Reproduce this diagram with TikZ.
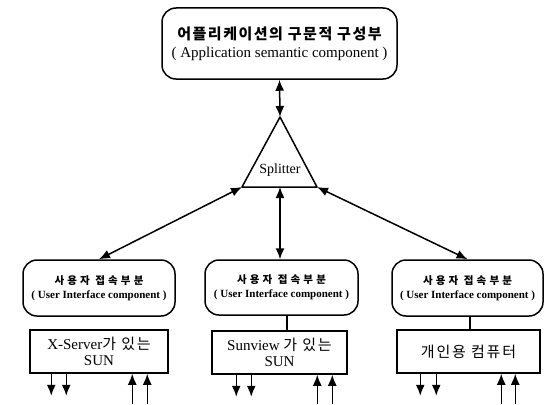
\documentclass[tikz,border=0pt]{standalone}
\usepackage{fontspec}
\setmainfont{Liberation Serif}
\newfontfamily\kr{Noto Sans CJK KR}
\usetikzlibrary{arrows.meta,calc}

\tikzset{
  conn/.style={line width=1.5pt},
  tip/.style={-{Latex[length=11pt,width=9pt]}},
  dtip/.style={{Latex[length=11pt,width=9pt]}-{Latex[length=11pt,width=9pt]}},
  roundbox/.style={draw, line width=1.5pt, rounded corners=14pt, inner sep=0pt, align=center},
  hwbox/.style={draw, line width=1.5pt, inner sep=0pt, align=center, minimum height=43pt,
    font=\fontsize{15}{16}\selectfont}
}

\newcommand{\uilabel}{{\kr\bfseries\addfontfeatures{LetterSpace=30}\fontsize{10.5}{12}\selectfont 사용자 접속부분}\\[2pt]{\bfseries\fontsize{11}{13}\selectfont ( User Interface component )}}
\newcommand{\krtext}[1]{{\kr\addfontfeatures{LetterSpace=12}\fontsize{15}{16}\selectfont #1}}

\begin{document}
\begin{tikzpicture}[x=1pt,y=-1pt]
\useasboundingbox (0,0) rectangle (553,404);

% application component
\node[roundbox, minimum width=235pt, minimum height=71pt] (app) at (279.5,43.5)
  {{\kr\bfseries\addfontfeatures{LetterSpace=10}\fontsize{15}{17}\selectfont 어플리케이션의 구문적 구성부}\\[6pt]
   {\fontsize{15}{17}\selectfont ( Application semantic component )}};

% splitter triangle
\coordinate (apex) at (280,117);
\coordinate (bl) at (242,187);
\coordinate (br) at (317,187);
\coordinate (bm) at (280,187);
\draw[conn, line join=round] (apex) -- (bl) -- (br) -- cycle;
\node[font=\fontsize{14}{16}\selectfont] (split) at (280,170) {Splitter};

% user interface components
\node[roundbox, minimum width=152pt, minimum height=56pt] (ui1) at (99,288) {\uilabel};
\node[roundbox, minimum width=153pt, minimum height=55pt] (ui2) at (281.5,287.5) {\uilabel};
\node[roundbox, minimum width=151pt, minimum height=56pt] (ui3) at (467.5,288) {\uilabel};

% machines
\node[hwbox, minimum width=138pt] (hw1) at (99,351.5)
  {X-Server\krtext{가 있는}\\SUN};
\node[hwbox, minimum width=135pt] (hw2) at (279.5,352.5)
  {Sunview \krtext{가 있는}\\SUN};
\node[hwbox, minimum width=143pt] (hw3) at (468.5,351.5)
  {\krtext{개인용 컴퓨터}};

% connectors
\draw[conn, dtip] (app.south) -- (apex);
\draw[conn, dtip] (bl) -- (ui1.north);
\draw[conn, dtip] (bm) -- (bm |- ui2.north);
\draw[conn, dtip] (br) -- (ui3.north);
\coordinate (c2) at (287,0);
\coordinate (c3) at (470,0);
\draw[conn] (c2 |- ui2.south) -- (c2 |- hw2.north);
\draw[conn] (c3 |- ui3.south) -- (c3 |- hw3.north);

% input and output lines under each machine
\foreach \h/\a/\b/\c/\d in {hw1/22/37/103/118, hw2/25/40/106/121, hw3/24/40/105/119}{
  \coordinate (o1) at ($(\h.south west)+(\a,22)$);
  \coordinate (o2) at ($(\h.south west)+(\b,22)$);
  \coordinate (i1) at ($(\h.south west)+(\c,0)$);
  \coordinate (i2) at ($(\h.south west)+(\d,0)$);
  \draw[conn, tip] (\h.south west -| o1) -- (o1);
  \draw[conn, tip] (\h.south west -| o2) -- (o2);
  \draw[conn, tip] (i1 |- 0,404) -- (i1);
  \draw[conn, tip] (i2 |- 0,404) -- (i2);
}
\end{tikzpicture}
\end{document}
